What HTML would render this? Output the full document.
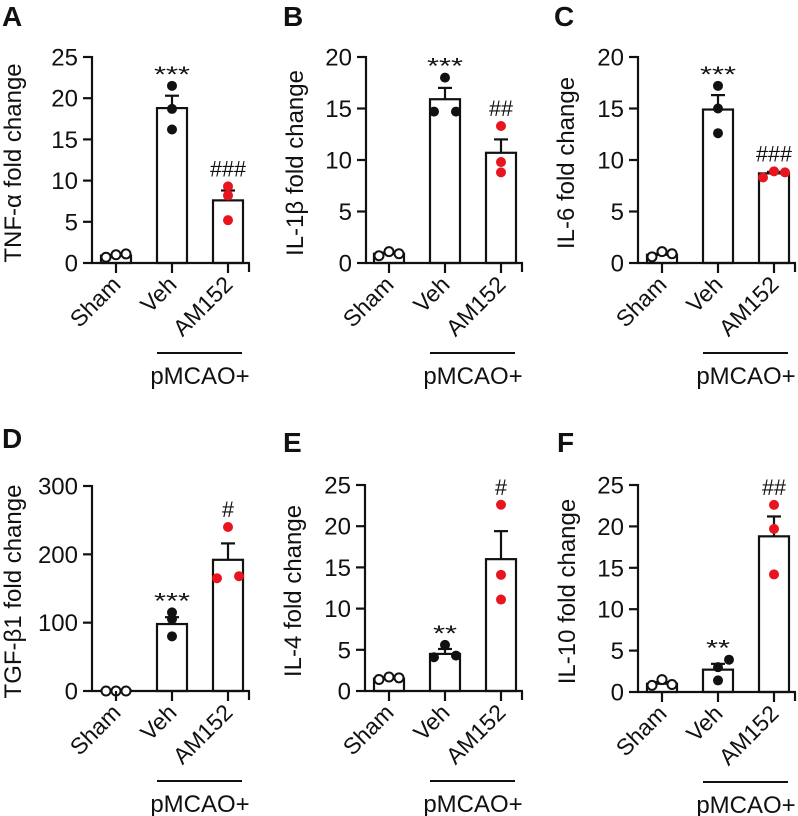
<!DOCTYPE html>
<html><head><meta charset="utf-8"><style>
html,body{margin:0;padding:0;background:#fff;}
svg{display:block;font-family:"Liberation Sans",Arial,sans-serif;}
</style></head><body>
<svg id="fig" width="798" height="816" viewBox="0 0 798 816"></svg>
<script>
const categories = ["Sham","Veh","AM152"];
const panelLetters = ["A","B","C","D","E","F"];
const yTitles = ["TNF-α fold change","IL-1β fold change","IL-6 fold change","TGF-β1 fold change","IL-4 fold change","IL-10 fold change"];
const yMax = [25,20,20,300,25,25];
const yTickLabels = [[0,5,10,15,20,25],[0,5,10,15,20],[0,5,10,15,20],[0,100,200,300],[0,5,10,15,20,25],[0,5,10,15,20,25]];
const meansA = [0.9,18.8,7.6];   const semA = [0.1,1.5,1.2];
const meansB = [0.9,15.9,10.7];  const semB = [0.1,1.1,1.3];
const meansC = [0.8,14.9,8.7];   const semC = [0.1,1.4,0.15];
const meansD = [0.5,98,192];     const semD = [0.3,10,24];
const meansE = [1.5,4.5,16];     const semE = [0.1,0.6,3.4];
const meansF = [1.0,2.7,18.8];   const semF = [0.2,0.7,2.4];
const pointsA = [[0.7,1.0,1.1],[16.2,18.7,21.5],[5.2,8.2,9.3]];
const pointsB = [[0.7,1.1,0.9],[14.7,18.0,14.7],[8.8,13.3,9.8]];
const pointsC = [[0.6,1.1,0.9],[12.6,17.2,15.0],[8.3,8.9,8.8]];
const pointsD = [[0,0,0],[80,115,105],[165,240,168]];
const pointsE = [[1.4,1.7,1.6],[4.1,5.6,4.3],[14.1,22.6,11.1]];
const pointsF = [[0.8,1.5,0.9],[1.4,3.0,3.9],[19.7,22.6,14.2]];
const sigVeh = ["***","***","***","***","**","**"];
const sigAM = ["###","##","###","#","#","##"];

const means=[meansA,meansB,meansC,meansD,meansE,meansF];
const sems=[semA,semB,semC,semD,semE,semF];
const points=[pointsA,pointsB,pointsC,pointsD,pointsE,pointsF];
// layout (pixel) settings per panel
const layout=[
 {ax:92,sham:24,top:57,bot:263,tx:12,lx:2,ly:26},
 {ax:366,sham:23,top:57,bot:263,tx:294,lx:283,ly:26},
 {ax:638,sham:24,top:57,bot:263,tx:565,lx:554,ly:26},
 {ax:92,sham:24,top:486,bot:691,tx:12,lx:2,ly:448},
 {ax:365,sham:24,top:485,bot:691,tx:292,lx:283,ly:452},
 {ax:638,sham:24,top:485,bot:692,tx:566,lx:557,ly:452}
];
const jitter=[
 [[-10,0,10],[0,0,0],[0,0,0]],
 [[-10,0,10],[-11,0,11],[0,0,0]],
 [[-10,0,10],[0,0,0],[-11,0,11]],
 [[-10,0,10],[0,0,0],[-11,0,11]],
 [[-10,0,10],[-11,0,11],[0,0,0]],
 [[-10,0,10],[0,0,11],[0,0,0]]
];
const NS="http://www.w3.org/2000/svg";
const svg=document.getElementById('fig');
function mk(tag,attrs,parent,text){const e=document.createElementNS(NS,tag);for(const k in attrs)e.setAttribute(k,attrs[k]);if(text!==undefined)e.textContent=text;(parent||svg).appendChild(e);return e;}

for(let p=0;p<6;p++){
 const L=layout[p];
 const g=mk('g',{});
 
 
 const y=v=>L.bot-(v/yMax[p])*(L.bot-L.top);
 const cx=i=>L.ax+L.sham+i*56;
 const xEnd=cx(2)+22;
 let t=mk('text',{x:L.lx,y:L.ly,'font-size':28,'font-weight':'bold',fill:'#111'},g,panelLetters[p]);
 
 
 const cy=(L.top+L.bot)/2+3;
 t=mk('text',{x:L.tx,y:cy,'font-size':24,'text-anchor':'middle',fill:'#111',transform:`rotate(-90 ${L.tx} ${cy}) translate(0 9)`},g,yTitles[p]);
 
 
 let a=mk('line',{x1:L.ax,y1:L.top-1,x2:L.ax,y2:L.bot+1,stroke:'#111','stroke-width':2.2},g);
 
 
 yTickLabels[p].forEach(v=>{
  mk('line',{x1:L.ax-9,y1:y(v),x2:L.ax,y2:y(v),stroke:'#111','stroke-width':2.2},g);
  const tl=mk('text',{x:L.ax-14,y:y(v)+8.5,'font-size':24,'text-anchor':'end',fill:'#111'},g,String(v));
  
  
 });
 for(let i=0;i<3;i++){
  const b=mk('rect',{x:cx(i)-15,y:y(means[p][i]),width:30,height:L.bot-y(means[p][i]),fill:'#fff',stroke:'#111','stroke-width':2.2},g);
  
  
  const top=y(means[p][i]+sems[p][i]);
  mk('line',{x1:cx(i),y1:y(means[p][i]),x2:cx(i),y2:top,stroke:'#111','stroke-width':2.2},g);
  mk('line',{x1:cx(i)-7,y1:top,x2:cx(i)+7,y2:top,stroke:'#111','stroke-width':2.2},g);
 }
 const ax=mk('line',{x1:L.ax-1,y1:L.bot,x2:xEnd,y2:L.bot,stroke:'#111','stroke-width':2.2},g);
 
 
 mk('line',{x1:xEnd-1,y1:L.bot,x2:xEnd-1,y2:L.bot+9,stroke:'#111','stroke-width':2.2},g);
 for(let i=0;i<3;i++){
  points[p][i].forEach((v,j)=>{
   const c=mk('circle',{cx:cx(i)+jitter[p][i][j],cy:y(v),r:i===0?4.5:5,fill:i===0?'#fff':(i===1?'#111':'#e8141e'),stroke:i===0?'#111':'none','stroke-width':2},g);
   
   
  });
 }
 for(let i=0;i<3;i++){
  mk('line',{x1:cx(i),y1:L.bot,x2:cx(i),y2:L.bot+10,stroke:'#111','stroke-width':2.2},g);
  const lx=cx(i)+6, ly=L.bot+23;
  const xl=mk('text',{x:lx,y:ly,'font-size':23,'text-anchor':'end',fill:'#111',transform:`rotate(-45 ${lx} ${ly})`},g,categories[i]);
  
  
 }
 [[1,sigVeh[p]],[2,sigAM[p]]].forEach(([i,s])=>{
  const m=Math.max(...points[p][i],means[p][i]+sems[p][i]);
  const star=s[0]==='*';
  const st=mk('text',{x:cx(i),y:y(m)-(star?4:10),'font-size':22,'text-anchor':'middle',fill:'#111',textLength:s.length*12,lengthAdjust:'spacingAndGlyphs'},g,s);
  
  
 });
 const gl=mk('line',{x1:cx(1)-15,y1:L.bot+90,x2:cx(2)+14,y2:L.bot+90,stroke:'#111','stroke-width':2},g);
 
 
 const gt=mk('text',{x:(cx(1)+cx(2))/2,y:L.bot+121,'font-size':24,'text-anchor':'middle',fill:'#111'},g,'pMCAO+');
 
 
}
</script>
</body></html>
